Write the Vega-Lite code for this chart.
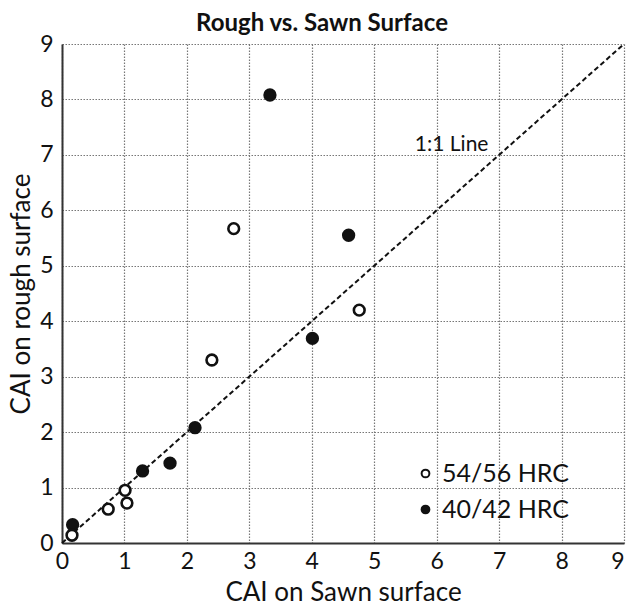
{
  "$schema": "https://vega.github.io/schema/vega-lite/v6.json",
  "width": 562,
  "height": 499,
  "autosize": {"type": "none"},
  "padding": {"left": 62, "top": 44, "right": 3, "bottom": 62},
  "background": "white",
  "title": {
    "text": "Rough vs. Sawn Surface",
    "fontSize": 24,
    "fontWeight": "bold",
    "font": "Lato",
    "color": "#111",
    "anchor": "middle",
    "dx": -21,
    "offset": -3
  },
  "config": {
    "view": {"stroke": null},
    "font": "Lato",
    "axis": {
      "grid": true,
      "gridColor": "#777",
      "gridDash": [1.5, 1.5],
      "gridWidth": 1.2,
      "gridOpacity": 1,
      "domainColor": "#333",
      "domainWidth": 2,
      "ticks": false,
      "labelFont": "Lato",
      "labelFontSize": 23,
      "labelColor": "#111",
      "titleFont": "Lato",
      "titleFontSize": 26,
      "titleFontWeight": "normal",
      "titleColor": "#111"
    }
  },
  "layer": [
    {
      "data": {"values": [{"sawn": 0, "rough": 0}, {"sawn": 9, "rough": 9}]},
      "mark": {"type": "line", "color": "#111", "strokeWidth": 2, "strokeDash": [5, 3]},
      "encoding": {
        "x": {"field": "sawn", "type": "quantitative", "scale": {"domain": [0, 9], "nice": false},
          "axis": {"values": [0,1,2,3,4,5,6,7,8,9], "format": "d", "title": "CAI on Sawn surface", "labelPadding": 7, "titlePadding": 6, "labelFlush": false,
            "labelAlign": {"condition": {"test": "datum.value == 9", "value": "right"}, "value": "center"}}},
        "y": {"field": "rough", "type": "quantitative", "scale": {"domain": [0, 9], "nice": false},
          "axis": {"values": [0,1,2,3,4,5,6,7,8,9], "format": "d", "title": "CAI on rough surface", "labelPadding": 9, "titlePadding": 5, "labelFlush": false}}
      }
    },
    {
      "data": {"values": [
        {"sawn": 0.17, "rough": 0.33, "group": "40/42 HRC"},
        {"sawn": 1.29, "rough": 1.30, "group": "40/42 HRC"},
        {"sawn": 1.73, "rough": 1.44, "group": "40/42 HRC"},
        {"sawn": 2.13, "rough": 2.08, "group": "40/42 HRC"},
        {"sawn": 3.33, "rough": 8.08, "group": "40/42 HRC"},
        {"sawn": 4.59, "rough": 5.55, "group": "40/42 HRC"},
        {"sawn": 4.01, "rough": 3.69, "group": "40/42 HRC"},
        {"sawn": 0.16, "rough": 0.14, "group": "54/56 HRC"},
        {"sawn": 0.74, "rough": 0.61, "group": "54/56 HRC"},
        {"sawn": 1.01, "rough": 0.95, "group": "54/56 HRC"},
        {"sawn": 1.04, "rough": 0.72, "group": "54/56 HRC"},
        {"sawn": 2.40, "rough": 3.30, "group": "54/56 HRC"},
        {"sawn": 2.75, "rough": 5.67, "group": "54/56 HRC"},
        {"sawn": 4.76, "rough": 4.20, "group": "54/56 HRC"}
      ]},
      "mark": {"type": "point", "shape": "circle", "filled": true, "stroke": "#111", "strokeWidth": 2.6, "size": 115, "opacity": 1},
      "encoding": {
        "x": {"field": "sawn", "type": "quantitative"},
        "y": {"field": "rough", "type": "quantitative"},
        "fill": {
          "field": "group", "type": "nominal",
          "scale": {"domain": ["54/56 HRC", "40/42 HRC"], "range": ["white", "#111"]},
          "legend": {
            "title": null,
            "orient": "none",
            "legendX": 351,
            "legendY": 417,
            "symbolType": "circle",
            "symbolSize": 60,
            "symbolStrokeColor": "#111",
            "symbolStrokeWidth": 2,
            "symbolOpacity": 1,
            "labelFontSize": 25,
            "labelFont": "Lato",
            "labelColor": "#111",
            "labelOffset": 4,
            "rowPadding": 10,
            "padding": 0
          }
        }
      }
    },
    {
      "data": {"values": [{"sawn": 6.24, "rough": 7.07, "label": "1:1 Line"}]},
      "mark": {"type": "text", "fontSize": 21, "font": "Lato", "color": "#111", "align": "center", "baseline": "alphabetic"},
      "encoding": {
        "x": {"field": "sawn", "type": "quantitative"},
        "y": {"field": "rough", "type": "quantitative"},
        "text": {"field": "label"}
      }
    }
  ]
}
